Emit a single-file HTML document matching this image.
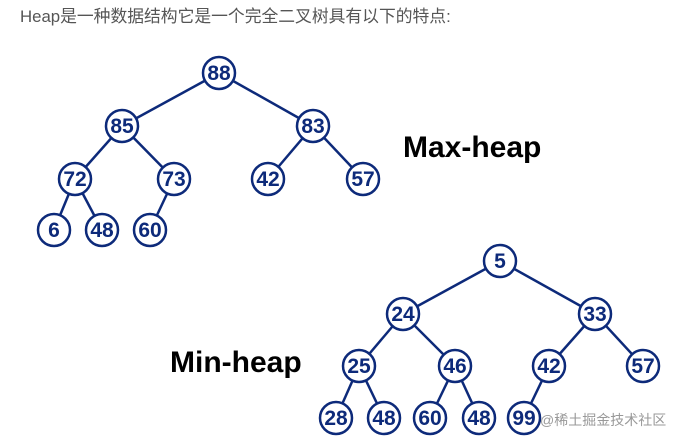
<!DOCTYPE html>
<html><head><meta charset="utf-8"><style>
body{margin:0;background:#fff;width:683px;height:447px;overflow:hidden}
</style></head><body>
<svg width="683" height="447" xmlns="http://www.w3.org/2000/svg" style="position:absolute;left:0;top:0">
<text x="20" y="22" font-family="Liberation Sans, Noto Sans CJK SC, sans-serif" font-size="16.8" fill="#555">Heap是一种数据结构它是一个完全二叉树具有以下的特点:</text>
<g stroke="#0d2a7a" stroke-width="2.5" fill="none">
<line x1="219" y1="73" x2="122" y2="126"/><line x1="219" y1="73" x2="313" y2="126"/>
<line x1="122" y1="126" x2="75" y2="179"/><line x1="122" y1="126" x2="174" y2="179"/>
<line x1="313" y1="126" x2="268" y2="179"/><line x1="313" y1="126" x2="363" y2="179"/>
<line x1="75" y1="179" x2="54" y2="230"/><line x1="75" y1="179" x2="102" y2="230"/>
<line x1="174" y1="179" x2="150" y2="230"/>
<line x1="500" y1="261" x2="403" y2="314"/><line x1="500" y1="261" x2="595" y2="314"/>
<line x1="403" y1="314" x2="359" y2="366"/><line x1="403" y1="314" x2="455" y2="366"/>
<line x1="595" y1="314" x2="549" y2="366"/><line x1="595" y1="314" x2="643" y2="366"/>
<line x1="359" y1="366" x2="336" y2="418"/><line x1="359" y1="366" x2="384" y2="418"/>
<line x1="455" y1="366" x2="430" y2="418"/><line x1="455" y1="366" x2="479" y2="418"/>
<line x1="549" y1="366" x2="524" y2="418"/>
</g>
<g stroke="#0d2a7a" stroke-width="2.5" fill="#fff">
<circle cx="219" cy="73" r="16"/><circle cx="122" cy="126" r="16"/><circle cx="313" cy="126" r="16"/>
<circle cx="75" cy="179" r="16"/><circle cx="174" cy="179" r="16"/><circle cx="268" cy="179" r="16"/><circle cx="363" cy="179" r="16"/>
<circle cx="54" cy="230" r="16"/><circle cx="102" cy="230" r="16"/><circle cx="150" cy="230" r="16"/>
<circle cx="500" cy="261" r="16"/><circle cx="403" cy="314" r="16"/><circle cx="595" cy="314" r="16"/>
<circle cx="359" cy="366" r="16"/><circle cx="455" cy="366" r="16"/><circle cx="549" cy="366" r="16"/><circle cx="643" cy="366" r="16"/>
<circle cx="336" cy="418" r="16"/><circle cx="384" cy="418" r="16"/><circle cx="430" cy="418" r="16"/><circle cx="479" cy="418" r="16"/><circle cx="524" cy="418" r="16"/>
</g>
<g font-family="Liberation Sans, sans-serif" font-weight="bold" font-size="21" fill="#0d2a7a" text-anchor="middle">
<text x="219" y="80">88</text><text x="122" y="133">85</text><text x="313" y="133">83</text>
<text x="75" y="186">72</text><text x="174" y="186">73</text><text x="268" y="186">42</text><text x="363" y="186">57</text>
<text x="54" y="237">6</text><text x="102" y="237">48</text><text x="150" y="237">60</text>
<text x="500" y="268">5</text><text x="403" y="321">24</text><text x="595" y="321">33</text>
<text x="359" y="373">25</text><text x="455" y="373">46</text><text x="549" y="373">42</text><text x="643" y="373">57</text>
<text x="336" y="425">28</text><text x="384" y="425">48</text><text x="430" y="425">60</text><text x="479" y="425">48</text><text x="524" y="425">99</text>
</g>
<g font-family="Liberation Sans, sans-serif" font-weight="bold" font-size="30" fill="#000">
<text x="403" y="157">Max-heap</text>
<text x="170" y="372">Min-heap</text>
</g>
<text x="540" y="425" font-family="Liberation Sans, Noto Sans CJK SC, sans-serif" font-size="14" fill="#999">@稀土掘金技术社区</text>
</svg>
</body></html>
